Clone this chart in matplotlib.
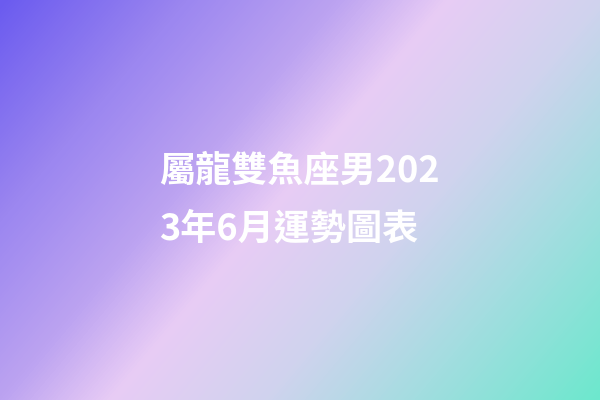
import numpy as np
import matplotlib
matplotlib.use("Agg")
import matplotlib.pyplot as plt
from matplotlib.colors import LinearSegmentedColormap

title_lines = ["屬龍雙魚座男202", "3年6月運勢圖表"]
stop_pos = [0.0, 0.2, 0.36, 0.476, 0.64, 0.8, 1.0]
stop_colors = ["#6b5bef", "#9c87f0", "#bca3f1", "#e8ccf5", "#d0d3ee", "#a3dde0", "#6ce8cd"]

W, H = 600, 400
fig = plt.figure(figsize=(6, 4), dpi=100)
ax = fig.add_axes([0, 0, 1, 1])
ax.set_axis_off()

cmap = LinearSegmentedColormap.from_list("bg", list(zip(stop_pos, stop_colors)))
xx, yy = np.meshgrid(np.arange(W), np.arange(H))
t = (363 * xx + 306 * yy) / (363 * W + 306 * H)
ax.imshow(t, cmap=cmap, vmin=0, vmax=1, extent=[0, W, H, 0], aspect="auto")
ax.set_xlim(0, W)
ax.set_ylim(H, 0)

fam = ["Noto Sans CJK TC", "DejaVu Sans"]
ys = [0.573, 0.428]
for line, y in zip(title_lines, ys):
    fig.text(0.266, y, line, color="white", fontsize=26, fontweight="bold",
             family=fam, va="center", ha="left")

fig.savefig("out.png", dpi=100)
